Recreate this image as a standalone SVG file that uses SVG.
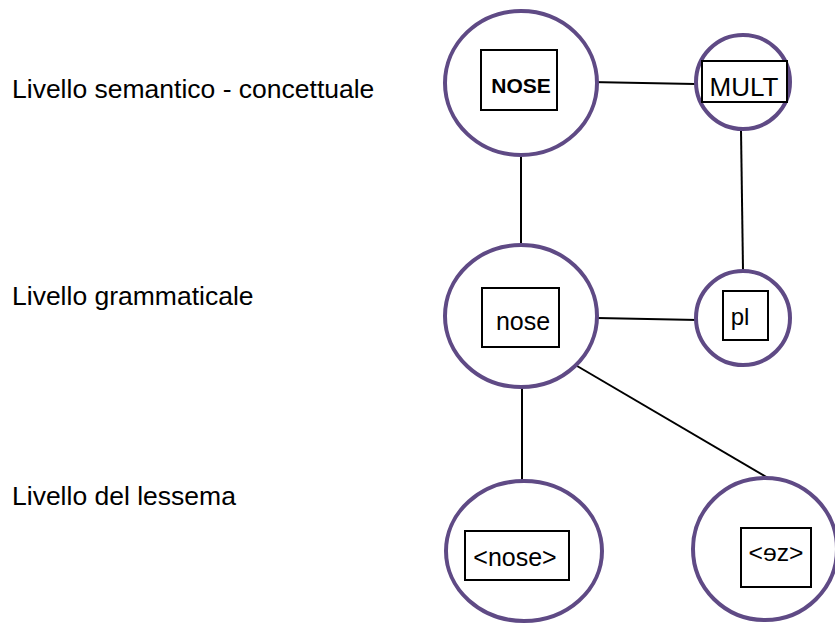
<svg xmlns="http://www.w3.org/2000/svg" width="835" height="625" viewBox="0 0 835 625">
  <style>
    .ring { fill: #ffffff; stroke: #5f4a85; stroke-width: 4; }
    .box { fill: #ffffff; stroke: #000000; stroke-width: 2; }
    .edge { stroke: #000000; stroke-width: 2; fill: none; }
    .lbl { font-family: "Liberation Sans", Arial, sans-serif; font-size: 26.5px; fill: #000000; }
    .t { font-family: "Liberation Sans", "DejaVu Sans", Arial, sans-serif; fill: #000000; text-anchor: middle; }
  </style>
  <rect width="835" height="625" fill="#ffffff"/>

  <!-- level labels -->
  <g id="labels">
    <text class="lbl" x="12" y="98">Livello semantico - concettuale</text>
    <text class="lbl" x="12" y="305">Livello grammaticale</text>
    <text class="lbl" x="12" y="505">Livello del lessema</text>
  </g>

  <!-- connectors -->
  <g id="connectors">
    <line class="edge" x1="590" y1="82" x2="695" y2="84"/>
    <line class="edge" x1="521" y1="155" x2="521" y2="245"/>
    <line class="edge" x1="741" y1="130" x2="743" y2="270"/>
    <line class="edge" x1="597" y1="318" x2="698" y2="320"/>
    <line class="edge" x1="572" y1="363" x2="768" y2="478"/>
    <line class="edge" x1="522" y1="387" x2="522" y2="483"/>
  </g>

  <g id="node-NOSE">
    <ellipse class="ring" cx="521" cy="83" rx="76" ry="72"/>
    <rect class="box" x="481" y="50" width="76" height="60"/>
    <text class="t" x="521" y="93" font-size="21" font-weight="bold">NOSE</text>
  </g>

  <g id="node-MULT">
    <circle class="ring" cx="743" cy="82" r="47"/>
    <rect class="box" x="702" y="61" width="85" height="41"/>
    <text class="t" x="744" y="96" font-size="26">MULT</text>
  </g>

  <g id="node-nose">
    <ellipse class="ring" cx="521" cy="316" rx="76" ry="71"/>
    <rect class="box" x="482" y="288" width="77" height="59"/>
    <text class="t" x="523" y="330" font-size="25">nose</text>
  </g>

  <g id="node-pl">
    <circle class="ring" cx="743" cy="318" r="47"/>
    <rect class="box" x="723" y="291" width="45" height="49"/>
    <text class="t" x="740" y="325" font-size="24">pl</text>
  </g>

  <g id="node-lexeme-nose">
    <ellipse class="ring" cx="524" cy="551" rx="78" ry="70"/>
    <rect class="box" x="465" y="531" width="104" height="49"/>
    <text class="t" x="515" y="566" font-size="25">&lt;nose&gt;</text>
  </g>

  <g id="node-lexeme-ez">
    <ellipse class="ring" cx="765" cy="549" rx="72" ry="71"/>
    <rect class="box" x="741" y="528" width="70" height="59"/>
    <text class="t" x="776" y="561" font-size="24" font-family="'DejaVu Sans', sans-serif" textLength="55" lengthAdjust="spacingAndGlyphs">&lt;ɘz&gt;</text>
  </g>
</svg>
